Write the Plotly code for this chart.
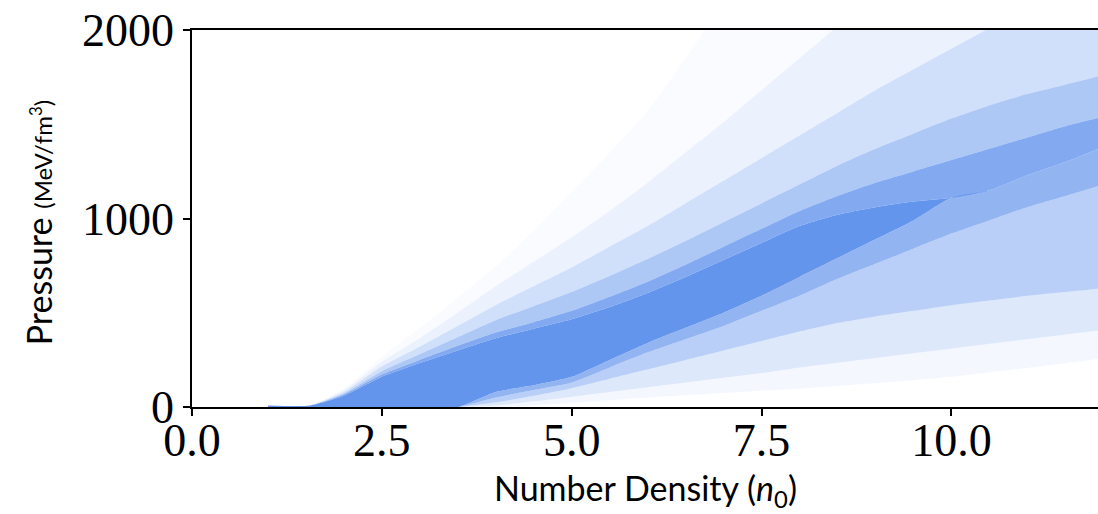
import plotly.graph_objects as go

# Number density grid (n0)
density = [1.0, 1.55, 2.0, 2.5, 3.0, 3.5, 4.0, 4.5, 5.0, 5.5, 6.0, 6.5, 7.0, 7.5,
           8.0, 8.5, 9.0, 9.5, 10.0, 10.5, 11.0, 11.5, 12.0]

# Envelope curves of the sampled pressure band (MeV/fm^3), top to bottom
upper_faint = [8, 8, 100, 265, 420, 580, 745, 935, 1140, 1350, 1570, 1850, 2150, 2450,
               2750, 3050, 3350, 3650, 3950, 4250, 4550, 4850, 5150]
upper_light = [8, 8, 90, 240, 365, 500, 640, 770, 900, 1040, 1190, 1350, 1510, 1680,
               1850, 2020, 2190, 2360, 2530, 2700, 2870, 3040, 3210]
upper_mid = [8, 8, 80, 215, 320, 430, 540, 640, 740, 850, 960, 1080, 1200, 1320,
             1440, 1560, 1680, 1790, 1900, 2010, 2120, 2230, 2340]
upper_dense = [8, 8, 72, 190, 280, 370, 460, 535, 610, 695, 785, 880, 980, 1080,
               1180, 1280, 1370, 1450, 1530, 1600, 1660, 1710, 1760]
upper_halo = [8, 8, 66, 172, 250, 325, 395, 450, 510, 585, 665, 755, 850, 945,
              1040, 1120, 1190, 1250, 1310, 1370, 1430, 1490, 1540]
core_top = [8, 8, 60, 160, 233, 300, 365, 415, 465, 530, 605, 690, 780, 870,
            960, 1020, 1060, 1090, 1110, 1150, 1230, 1300, 1380]
core_bottom = [0, 0, 0, 0, 0, 0, 80, 115, 160, 250, 340, 420, 500, 590,
               690, 790, 890, 990, 1110, 1150, 1230, 1300, 1380]
lower_halo = [0, 0, 0, 0, 0, 0, 50, 90, 130, 210, 290, 360, 430, 510,
              590, 680, 760, 840, 920, 990, 1060, 1120, 1180]
lower_mid = [0, 0, 0, 0, 0, 0, 25, 60, 100, 150, 200, 250, 300, 350,
             400, 445, 480, 510, 540, 565, 590, 610, 630]
lower_light = [0, 0, 0, 0, 0, 0, 8, 30, 55, 80, 105, 130, 155, 180,
               210, 235, 260, 285, 310, 335, 360, 385, 410]
lower_faint = [0, 0, 0, 0, 0, 0, 0, 8, 22, 36, 50, 62, 74, 86,
               98, 112, 126, 142, 160, 183, 207, 232, 258]

x_ticks = [0.0, 2.5, 5.0, 7.5, 10.0]
x_tick_text = ["0.0", "2.5", "5.0", "7.5", "10.0"]
y_ticks = [0, 1000, 2000]
y_tick_text = ["0", "1000", "2000"]

BLUE = "100,149,237"

# (upper boundary of band, opacity of band between it and the previous curve)
layers = [
    (lower_faint, None),
    (lower_light, 0.07),
    (lower_mid, 0.22),
    (lower_halo, 0.45),
    (core_bottom, 0.70),
    (core_top, 1.0),
    (upper_halo, 0.80),
    (upper_dense, 0.52),
    (upper_mid, 0.30),
    (upper_light, 0.13),
    (upper_faint, 0.04),
]

fig = go.Figure()
for ys, alpha in layers:
    fig.add_trace(go.Scatter(
        x=density, y=ys, mode="lines",
        line=dict(width=0, color=f"rgba({BLUE},0)", shape="spline", smoothing=0.6),
        fill=None if alpha is None else "tonexty",
        fillcolor=None if alpha is None else f"rgba({BLUE},{alpha})",
        hoverinfo="skip", showlegend=False,
    ))

serif = "Liberation Serif, DejaVu Serif, serif"
sans = "Lato, Open Sans, Liberation Sans, sans-serif"

fig.update_layout(
    width=1098, height=514,
    margin=dict(l=192, r=0, t=30, b=107),
    paper_bgcolor="white", plot_bgcolor="white",
    showlegend=False,
    xaxis=dict(
        range=[0, 11.93], tickvals=x_ticks, ticktext=x_tick_text,
        ticks="outside", ticklen=7, tickwidth=1.5, tickcolor="black",
        showline=True, linecolor="black", linewidth=1.5, mirror=True,
        showgrid=False, zeroline=False, ticklabelstandoff=-15,
        tickfont=dict(family=serif, size=46, color="black"),
    ),
    yaxis=dict(
        range=[0, 2000], tickvals=y_ticks, ticktext=y_tick_text,
        ticks="outside", ticklen=7, tickwidth=1.5, tickcolor="black",
        showline=True, linecolor="black", linewidth=1.5, mirror=False,
        showgrid=False, zeroline=False,
        tickfont=dict(family=serif, size=46, color="black"),
    ),
    annotations=[
        dict(text="Number Density (<i>n</i><sub>0</sub>)", xref="paper", yref="paper",
             x=0.5, y=-0.22, xanchor="center", yanchor="middle", showarrow=False,
             font=dict(family=sans, size=34, color="black")),
        dict(text="Pressure <span style='font-size:24px'>(MeV/fm<sup>3</sup>)</span>",
             xref="paper", yref="paper",
             x=-0.17, y=0.49, xanchor="center", yanchor="middle", showarrow=False,
             textangle=-90, font=dict(family=sans, size=34, color="black")),
    ],
)

fig.write_html("out.html")
